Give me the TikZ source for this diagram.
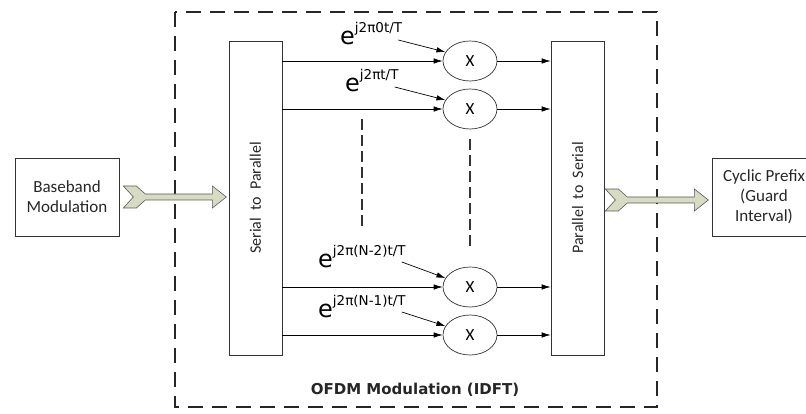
\documentclass[tikz,border=0pt]{standalone}
\usepackage{fontspec}
\setmainfont{Carlito}
\newfontfamily\djv{DejaVu Sans}
\usetikzlibrary{shapes.geometric, arrows.meta}
\definecolor{chevfill}{RGB}{216,219,196}
\definecolor{chevline}{RGB}{90,90,80}
\newcommand{\expo}[1]{{\djv\fontsize{24}{24}\selectfont e\raisebox{12pt}{\fontsize{13.5}{14}\selectfont #1}}}
\tikzset{
  fatarrow/.style={draw=chevline, fill=chevfill, line width=0.6pt, line join=miter},
  fat/.pic={\draw[fatarrow] (0,-9) -- (13,-9) -- (22,-1) -- (89,-1) -- (89,-9) -- (103,2)
      -- (89,13) -- (89,5) -- (22,5) -- (13,13) -- (0,13) -- (10,2) -- cycle;}
}

\begin{document}
\begin{tikzpicture}[x=1pt, y=-1pt,
    block/.style={draw=black!80, line width=0.7pt, minimum width=104pt, minimum height=78pt,
        align=center, text=black!85, font=\fontsize{17}{20}\selectfont},
    conv/.style={draw=black!80, line width=0.7pt, minimum width=53pt, minimum height=314pt, inner sep=0pt},
    mixer/.style={draw=black!80, line width=0.7pt, ellipse, minimum width=54pt, minimum height=40pt,
        inner sep=0pt, font=\fontsize{17}{17}\selectfont},
    sig/.style={-{Latex[length=9pt, width=5.5pt]}, line width=0.7pt},
    expo/.style={anchor=base west, inner sep=0pt},
    dots/.style={line width=1.6pt, dash pattern=on 11pt off 5pt, black!80},
    frame/.style={line width=1.6pt, dash pattern=on 15pt off 9pt, black!85}]
    \useasboundingbox (0,0) rectangle (806,414);

    % OFDM frame
    \draw[frame] (175,12) rectangle (657,407);
    \node[font=\djv\bfseries\fontsize{15}{15}\selectfont, text=black!85] (ofdm) at (415,390)
        {OFDM Modulation (IDFT)};

    % Outer blocks
    \node[block] (bb) at (67,197) {Baseband\\Modulation};
    \node[block] (cyc) at (764,197) {Cyclic Prefix\\(Guard\\Interval)};

    % Converters
    \node[conv, label={[rotate=90, font=\fontsize{16}{16}\selectfont, text=black!85]center:Serial~~to~~Parallel}]
        (sp) at (255.5,198) {};
    \node[conv, label={[rotate=90, font=\fontsize{16}{16}\selectfont, text=black!85]center:Parallel~~to~~Serial}]
        (ps) at (577.5,198) {};

    % Multipliers
    \node[mixer] (m1) at (470,61) {X};
    \node[mixer] (m2) at (470,109) {X};
    \node[mixer] (m3) at (470,287) {X};
    \node[mixer] (m4) at (470,335) {X};

    % Carriers
    \node[expo] (e1) at (340,45) {\expo{j2π0t/T}};
    \node[expo] (e2) at (345,92) {\expo{j2πt/T}};
    \node[expo] (e3) at (318,267) {\expo{j2π(N-2)t/T}};
    \node[expo] (e4) at (318,317) {\expo{j2π(N-1)t/T}};

    % Omitted branches
    \draw[dots] (362,119) -- (362,229);
    \draw[dots] (470,139) -- (470,248);

    % Arrows
    \foreach \m in {m1,m2,m3,m4} {
        \draw[sig] (sp.east |- \m) -- (\m);
        \draw[sig] (\m) -- (\m -| ps.west);
    }
    \foreach \e/\m in {e1/m1,e2/m2,e3/m3,e4/m4}
        \draw[sig] ([xshift=-4pt, yshift=5pt]\e.base east) -- (\m.160);

    \pic at ([xshift=4pt, yshift=2pt]bb.east) {fat};
    \pic at ([xshift=1pt]ps.east) {fat};
\end{tikzpicture}
\end{document}
